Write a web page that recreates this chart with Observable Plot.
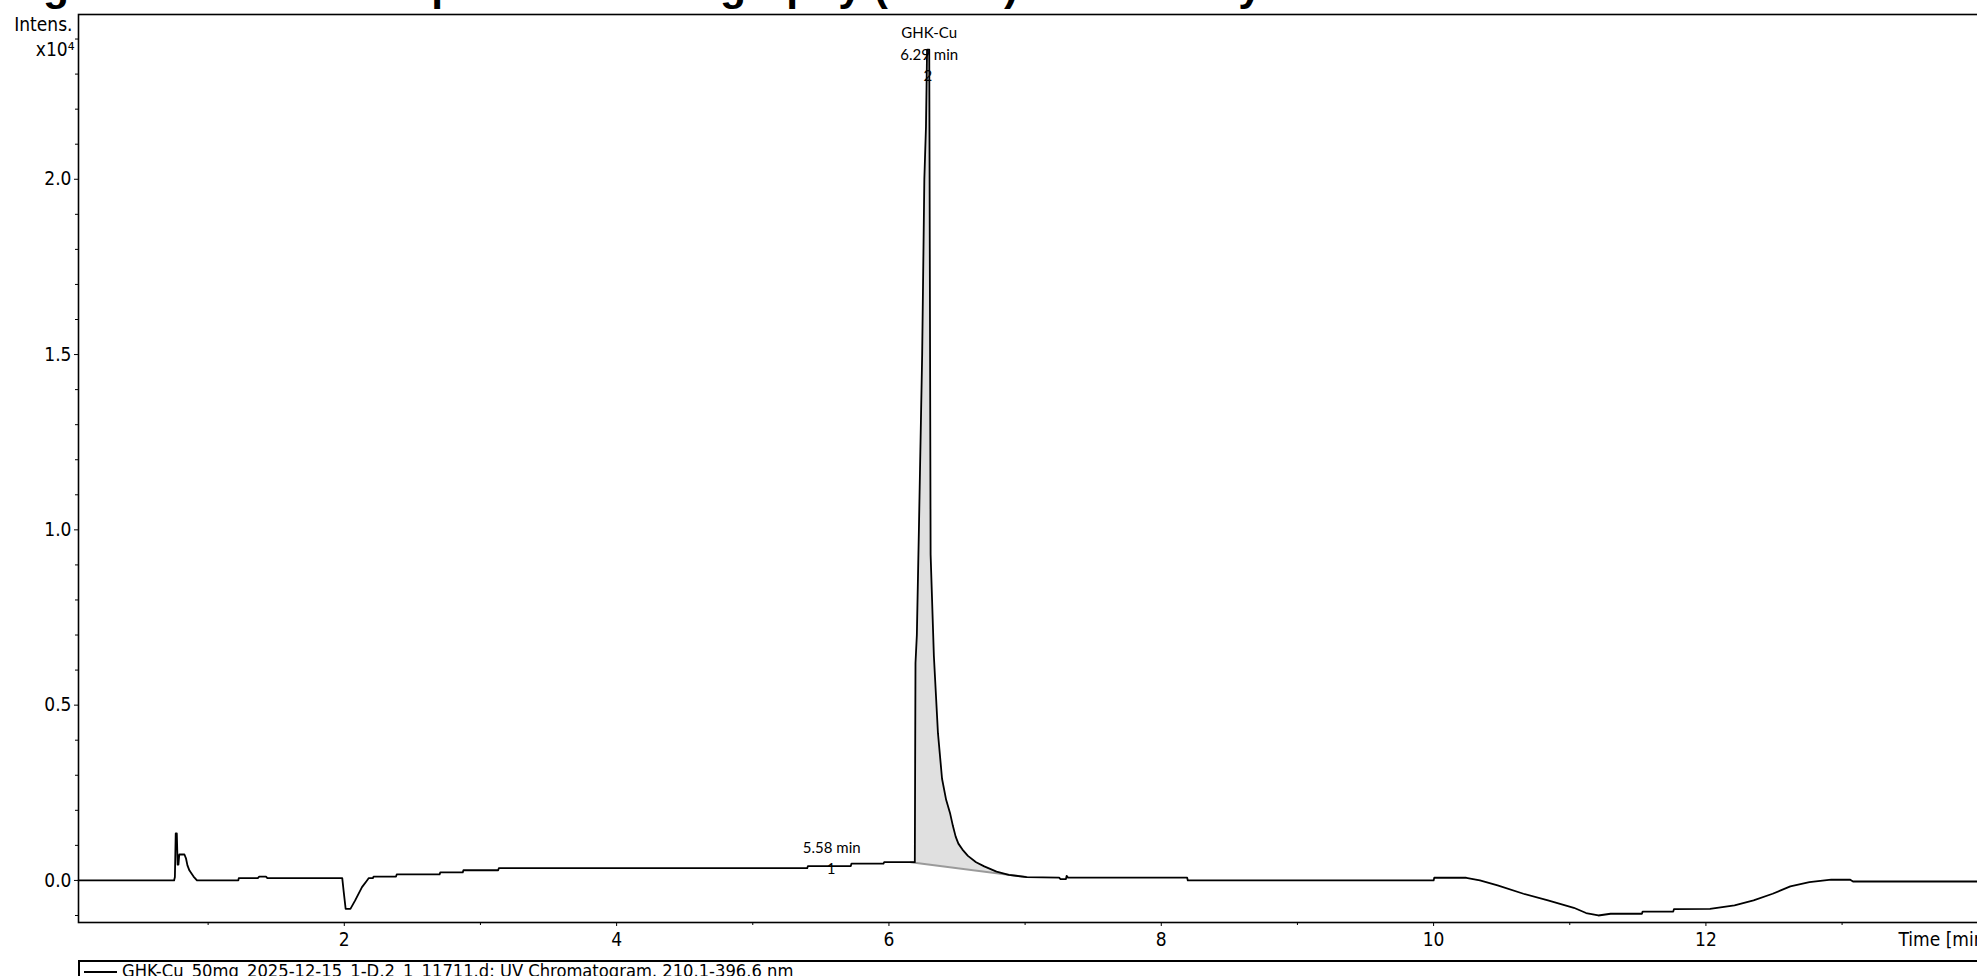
<!DOCTYPE html>
<html><head><meta charset="utf-8">
<script src="https://cdn.jsdelivr.net/npm/d3@7"></script>
<script src="https://cdn.jsdelivr.net/npm/@observablehq/plot@0.6"></script>
<style>
html,body{margin:0;padding:0;background:#fff;overflow:hidden;width:1977px;height:976px}
#wrap{position:relative;width:1977px;height:976px;overflow:hidden}
#chart svg{display:block}
#legend{position:absolute;left:78px;top:960px;width:1960px;height:40px;border-top:2px solid #000;border-left:2px solid #000;font-family:"DejaVu Sans Condensed","DejaVu Sans",sans-serif;font-stretch:condensed;font-size:18.2px;line-height:17px;padding-left:4px;padding-top:0px;white-space:nowrap;box-sizing:border-box}
#legend .sw{display:inline-block;width:33px;border-top:2px solid #000;vertical-align:middle;margin-right:5px}
</style></head>
<body><div id="wrap"><div id="chart"></div><div id="legend"><span class="sw"></span><span id="legtext"></span></div></div>
<script>
// ---- data (intensity in x10^4) ----
const times = [0.048,0.750,0.756,0.762,0.770,0.776,0.782,0.788,0.826,0.838,0.848,0.863,0.893,0.918,
  1.222,1.225,1.365,1.375,1.425,1.435,1.985,1.995,2.010,2.045,2.080,2.130,2.167,2.180,2.210,2.215,
  2.380,2.385,2.700,2.705,2.870,2.875,3.130,3.135,5.400,5.405,5.720,5.725,5.960,5.965,6.160,6.190,
  6.195,6.205,6.220,6.244,6.260,6.272,6.280,6.296,6.300,6.306,6.330,6.360,6.390,6.420,6.450,6.470,
  6.490,6.510,6.540,6.580,6.640,6.700,6.790,6.880,7.010,7.250,7.260,7.300,7.305,7.315,8.190,8.195,10.000,10.005,
  10.240,10.340,10.470,10.660,10.840,11.030,11.120,11.210,11.300,11.530,11.535,11.760,11.765,12.030,
  12.210,12.350,12.490,12.620,12.760,12.920,13.060,13.080,14.090];
const intens = [0,0,0.01,0.134,0.134,0.045,0.045,0.074,0.074,0.062,0.043,0.028,0.011,0,
  0,0.0067,0.0067,0.011,0.011,0.0067,0.0067,-0.03,-0.081,-0.081,-0.057,-0.019,0,0.0067,0.0067,0.011,
  0.011,0.017,0.017,0.023,0.023,0.029,0.029,0.035,0.035,0.041,0.041,0.048,0.048,0.052,0.052,0.052,
  0.62,0.70,1.00,1.50,2.00,2.15,2.37,2.37,1.80,0.93,0.64,0.42,0.29,0.23,0.19,0.155,
  0.125,0.105,0.088,0.070,0.052,0.040,0.025,0.016,0.0095,0.008,0.004,0.004,0.013,0.008,0.008,0,0,0.0076,
  0.0076,0,-0.014,-0.038,-0.057,-0.078,-0.093,-0.100,-0.095,-0.095,-0.089,-0.089,-0.082,-0.081,
  -0.071,-0.057,-0.038,-0.017,-0.005,0.002,0.002,-0.003,-0.003];
// integration baseline of peak 2
const baseTimes = [6.16, 7.01];
const baseVals = [0.052, 0.0095];
// peak annotations
const peakLabels = ["GHK-Cu", "6.29 min", "2", "5.58 min", "1"];
const peakLabelTimes = [6.296, 6.296, 6.285, 5.58, 5.575];
const peakLabelVals = [2.418, 2.353, 2.293, 0.091, 0.031];
// axes
const xMajor = [2, 4, 6, 8, 10, 12];
const xMinor = [1, 3, 5, 7, 9, 11, 13];
const yMajor = [0, 0.5, 1.0, 1.5, 2.0];
const yMinor = [-0.1,0.1,0.2,0.3,0.4,0.6,0.7,0.8,0.9,1.1,1.2,1.3,1.4,1.6,1.7,1.8,1.9,2.1,2.2,2.3,2.4];
const titleText = "High Performance Liquid Chromatography (HPLC) Peak Purity";
const legendText = "GHK-Cu_50mg_2025-12-15_1-D,2_1_11711.d: UV Chromatogram, 210.1-396.6 nm";

const data = times.map((t, i) => ({t, v: intens[i]}));
const baseAt = t => baseVals[0] + (baseVals[1] - baseVals[0]) * (t - baseTimes[0]) / (baseTimes[1] - baseTimes[0]);
const peakData = data.filter(d => d.t >= baseTimes[0] && d.t <= baseTimes[1]);
const baseData = baseTimes.map((t, i) => ({t, v: baseVals[i]}));
const labels = peakLabels.map((s, i) => ({s, t: peakLabelTimes[i], v: peakLabelVals[i]}));

const axisFont = '"DejaVu Sans Condensed", "DejaVu Sans", sans-serif';
const annFont = 'Lato, "Open Sans", sans-serif';

const chart = Plot.plot({
  width: 1995, height: 958,
  marginLeft: 78, marginRight: 5, marginTop: 14, marginBottom: 36,
  style: {fontFamily: axisFont, fontSize: "19px", maxWidth: "none", overflow: "visible", background: "transparent", fontStretch: "condensed"},
  x: {domain: [0.048, 14.09], label: null},
  y: {domain: [-0.12, 2.47], label: null},
  marks: [
    Plot.areaY(peakData, {x: "t", y1: d => baseAt(d.t), y2: "v", fill: "#e0e0e0"}),
    Plot.line(baseData, {x: "t", y: "v", stroke: "#9a9a9a", strokeWidth: 2}),
    Plot.line(data, {x: "t", y: "v", stroke: "#000", strokeWidth: 1.8}),
    Plot.frame({stroke: "#000", strokeWidth: 1.6}),
    Plot.axisX({ticks: xMajor, tickSize: 4, tickPadding: 6, tickFormat: d => String(d)}),
    Plot.axisX({ticks: xMinor, tickSize: 3, tickFormat: () => ""}),
    Plot.axisY({ticks: yMajor, tickSize: 4, tickPadding: 3, tickFormat: d3.format(".1f")}),
    Plot.axisY({ticks: yMinor, tickSize: 3, tickFormat: () => ""}),
    Plot.text(["Intens."], {text: d => d, frameAnchor: "top-left", dx: -6, dy: 16, textAnchor: "end", lineAnchor: "bottom"}),
    Plot.text(["x10⁴"], {text: d => d, frameAnchor: "top-left", dx: -4, dy: 41, textAnchor: "end", lineAnchor: "bottom"}),
    Plot.text(["Time [min]"], {text: d => d, frameAnchor: "bottom-right", dx: -92, dy: 17, textAnchor: "start", lineAnchor: "middle"}),
    Plot.text(labels, {x: "t", y: "v", text: "s", fontFamily: annFont, fontSize: 15, lineAnchor: "middle", fill: "#000"}),
    Plot.text([titleText], {text: d => d, frameAnchor: "top-left", dx: -78, dy: -15, textAnchor: "start", lineAnchor: "bottom", fontSize: 42.6, fontWeight: "bold", fontFamily: '"Liberation Sans", Arial, sans-serif'})
  ]
});
document.getElementById("chart").appendChild(chart);
document.getElementById("legtext").textContent = legendText;
</script></body></html>
